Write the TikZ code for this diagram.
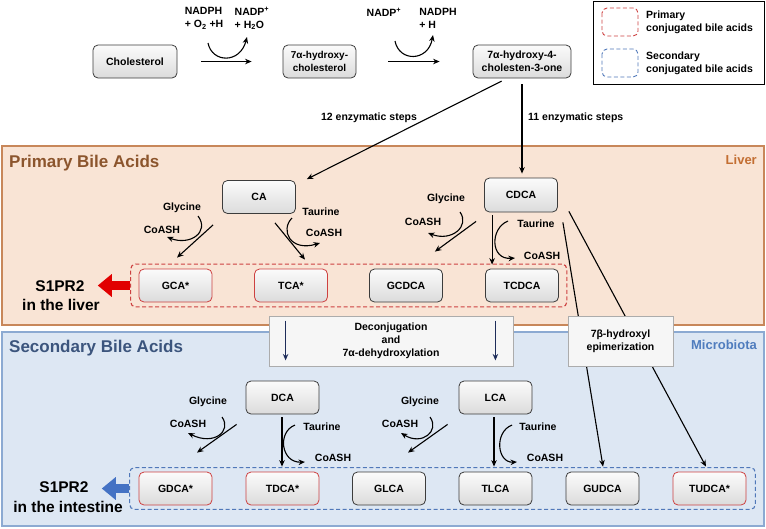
\documentclass[tikz,border=0pt]{standalone}
\usepackage{fontspec}
\setmainfont{Liberation Sans}
\usetikzlibrary{arrows.meta,fit}

\definecolor{liverfill}{RGB}{249,228,213}
\definecolor{liverline}{RGB}{200,135,90}
\definecolor{livertext}{RGB}{140,85,45}
\definecolor{liverlabel}{RGB}{195,110,50}
\definecolor{gutfill}{RGB}{221,231,243}
\definecolor{gutline}{RGB}{140,170,210}
\definecolor{guttext}{RGB}{60,85,125}
\definecolor{gutlabel}{RGB}{80,125,190}
\definecolor{conjred}{RGB}{205,65,65}
\definecolor{conjblue}{RGB}{80,120,185}
\definecolor{arrowred}{RGB}{225,0,0}
\definecolor{arrowblue}{RGB}{68,114,196}
\definecolor{navy}{RGB}{30,45,90}
\definecolor{boxline}{RGB}{60,60,60}

\begin{document}
\begin{tikzpicture}[x=1pt, y=-1pt, font=\bfseries\fontsize{10.5}{13}\selectfont,
  bile/.style={draw=boxline, line width=0.8pt, rounded corners=5pt, top color=gray!3, bottom color=gray!28,
    minimum width=73pt, minimum height=33pt, align=center, inner sep=1pt},
  arr/.style={-{Stealth[length=6.5pt,width=5.5pt]}, line width=1.1pt},
  cofac/.style={align=left, inner sep=0pt},
  lbl/.style={inner sep=0pt},
  stepbox/.style={draw=gray!65, fill=gray!7, line width=0.8pt, minimum height=50pt, align=center},
  region/.style={line width=1.2pt},
  dashbox/.style={draw, dash pattern=on 4pt off 2.5pt, line width=1.1pt, rounded corners=5pt},
  fat/.style={line width=9pt, -{Triangle[width=22pt,length=14pt]}},
]
  \useasboundingbox (0,0) rectangle (766,528);

  % Liver and microbiota areas
  \draw[region, draw=liverline, fill=liverfill] (2,146) rectangle (764,325);
  \draw[region, draw=gutline, fill=gutfill] (2,332) rectangle (764,526);
  \node[lbl, anchor=west, text=livertext, font=\bfseries\fontsize{17}{20}\selectfont] (primtitle) at (9,163) {Primary Bile Acids};
  \node[lbl, anchor=east, text=liverlabel, font=\bfseries\fontsize{13}{15}\selectfont] (livertitle) at (757,160) {Liver};
  \node[lbl, anchor=west, text=guttext, font=\bfseries\fontsize{17}{20}\selectfont] (sectitle) at (9,348) {Secondary Bile Acids};
  \node[lbl, anchor=east, text=gutlabel, font=\bfseries\fontsize{13}{15}\selectfont] (guttitle) at (757,345) {Microbiota};

  % Legend
  \node[draw, line width=0.9pt, minimum width=171pt, minimum height=83pt] (legend) at (678.5,42.5) {};
  \draw[dashbox, draw=conjred, line width=0.9pt] (602,8) rectangle (638,36);
  \draw[dashbox, draw=conjblue, line width=0.9pt] (602,49) rectangle (638,77);
  \node[lbl, anchor=west, align=left] (legprim) at (646,22.5) {Primary\\conjugated bile acids};
  \node[lbl, anchor=west, align=left] (legsec) at (646,63.5) {Secondary\\conjugated bile acids};

  % Cholesterol to 7a-hydroxy-4-cholesten-3-one
  \node[bile, minimum width=84pt] (chol) at (135,61.5) {Cholesterol};
  \node[bile, font=\bfseries\fontsize{10}{13}\selectfont] (hc) at (319.5,61.5) {7α-hydroxy-\\cholesterol};
  \node[bile, minimum width=98pt] (hcone) at (522,61.5) {7α-hydroxy-4-\\cholesten-3-one};

  \draw[arr, shorten <=24pt, shorten >=31pt] (chol) -- (hc);
  \draw[arr] (208,43) .. controls (212,63) and (240,64) .. (247,37);
  \node[cofac] (nadph1) at (204,18.5) {NADPH\\+ O\textsubscript{2} +H};
  \node[cofac] (nadp1) at (252,18.5) {NADP\textsuperscript{+}\\+ H\textsubscript{2}O};

  \draw[arr, shorten <=32pt, shorten >=33pt] (hc) -- (hcone);
  \draw[arr] (395,41) .. controls (399,62) and (428,62) .. (433,35);
  \node[cofac] (nadp2) at (384,12) {NADP\textsuperscript{+}};
  \node[cofac] (nadph2) at (438,18.5) {NADPH\\+ H};

  % Primary bile acids
  \node[bile] (CA) at (259,197) {CA};
  \node[bile, minimum height=34pt] (CDCA) at (521,195) {CDCA};
  \foreach \n/\t/\x/\c in {GCA/GCA*/175.5/conjred, TCA/TCA*/291/conjred,
                           GCDCA/GCDCA/406/boxline, TCDCA/TCDCA/522/boxline}
    \node[bile, draw=\c] (\n) at (\x,285.5) {\t};

  \draw[arr, shorten <=6pt] ([xshift=-15pt]hcone.south) -- ([xshift=11pt,yshift=1pt]CA.north east);
  \draw[arr] ([yshift=-6pt]hcone.south) -- ([xshift=1pt,yshift=4pt]CDCA.north);
  \node (steps12) at (369,118) {12 enzymatic steps};
  \node[lbl, anchor=west] (steps11) at (528,118) {11 enzymatic steps};

  % Secondary bile acids
  \node[bile] (DCA) at (282.5,397.5) {DCA};
  \node[bile] (LCA) at (495.5,397.5) {LCA};
  \foreach \n/\t/\x/\c in {GDCA/GDCA*/175.5/conjred, TDCA/TDCA*/282.5/conjred,
                           GLCA/GLCA/389/boxline, TLCA/TLCA/495.5/boxline,
                           GUDCA/GUDCA/602.5/boxline, TUDCA/TUDCA*/709.5/conjred}
    \node[bile, draw=\c] (\n) at (\x,488.5) {\t};

  % Conjugation with glycine / taurine
  \draw[arr] ([xshift=-9pt,yshift=-11pt]CA.south west) -- ([xshift=1.5pt,yshift=11pt]GCA.north);
  \draw[arr] (198,216) .. controls (210,232) and (190,246) .. (167,237);
  \node (gly1) at (182,208) {Glycine};
  \node (coa1) at (162,230) {CoASH};
  \draw[arr] ([xshift=16pt,yshift=-9pt]CA.south) -- ([xshift=14pt,yshift=9pt]TCA.north);
  \draw[arr] (292,218) .. controls (280,230) and (290,252) .. (320,243);
  \node (tau1) at (321,212) {Taurine};
  \node (coa2) at (324,233) {CoASH};

  \draw[arr] ([xshift=-8pt,yshift=-9pt]CDCA.south west) -- ([xshift=-8pt,yshift=17pt]GCDCA.north east);
  \draw[arr] (460,212) .. controls (470,226) and (452,242) .. (428,233);
  \node (gly2) at (446,199) {Glycine};
  \node (coa3) at (423,222) {CoASH};
  \draw[arr] ([xshift=8pt,yshift=-3pt]CDCA.south west) -- ([xshift=7pt,yshift=4pt]TCDCA.north west);
  \draw[arr] (508,221) .. controls (490,228) and (490,260) .. (515,258);
  \node (tau2) at (536,224) {Taurine};
  \node (coa4) at (542,256) {CoASH};

  \draw[arr] ([xshift=-9pt,yshift=-10pt]DCA.south west) -- ([xshift=21.5pt,yshift=19pt]GDCA.north);
  \draw[arr] (222,417) .. controls (232,431) and (214,446) .. (188,433);
  \node (gly3) at (208,402) {Glycine};
  \node (coa5) at (188,424) {CoASH};
  \draw[arr] ([xshift=-0.5pt,yshift=-3pt]DCA.south) -- ([xshift=-0.5pt,yshift=5pt]TDCA.north);
  \draw[arr] (295,425) .. controls (277,432) and (281,463) .. (305,462);
  \node (tau3) at (322,427) {Taurine};
  \node (coa6) at (333,458) {CoASH};

  \draw[arr] ([xshift=-11pt,yshift=-10pt]LCA.south west) -- ([xshift=19pt,yshift=19pt]GLCA.north);
  \draw[arr] (430,417) .. controls (440,431) and (422,446) .. (401,433);
  \node (gly4) at (420,402) {Glycine};
  \node (coa7) at (400,424) {CoASH};
  \draw[arr] ([xshift=-1.5pt,yshift=-3pt]LCA.south) -- ([xshift=-1.5pt,yshift=5pt]TLCA.north);
  \draw[arr] (512,425) .. controls (494,432) and (497,463) .. (517,462);
  \node (tau4) at (538,427) {Taurine};
  \node (coa8) at (545,458) {CoASH};

  % Epimerization of CDCA
  \draw[arr] ([xshift=5pt,yshift=-10pt]CDCA.south east) -- ([xshift=0.5pt,yshift=5pt]GUDCA.north);
  \draw[arr] ([xshift=11pt,yshift=1pt]CDCA.south east) -- ([xshift=-3.5pt,yshift=5pt]TUDCA.north);

  % Conjugated groups and S1PR2
  \node[dashbox, draw=conjred, fit=(GCA) (TCDCA), inner xsep=8pt, inner ysep=4.5pt] (prim) {};
  \node[dashbox, draw=conjblue, fit=(GDCA) (TUDCA), inner xsep=9pt, inner ysep=4pt] (sec) {};

  \node[lbl, font=\bfseries\fontsize{15.5}{18}\selectfont] (s1a) at (60,286) {S1PR2};
  \node[lbl, font=\bfseries\fontsize{15.5}{18}\selectfont] (s1aa) at (61,305) {in the liver};
  \node[lbl, font=\bfseries\fontsize{15.5}{18}\selectfont] (s1b) at (64,487) {S1PR2};
  \node[lbl, font=\bfseries\fontsize{15.5}{18}\selectfont] (s1bb) at (68,507) {in the intestine};
  \draw[fat, arrowred, shorten >=13pt] (prim.west) -- (prim.west -| s1a.east);
  \draw[fat, arrowblue, shorten >=13pt] (sec.west) -- (sec.west -| s1b.east);

  % Steps across the two areas
  \node[stepbox, minimum width=244pt] (deconj) at (391,341) {Deconjugation\\and\\7α-dehydroxylation};
  \node[stepbox, minimum width=105pt] (epim) at (620.5,341) {7β-hydroxyl\\epimerization};
  \draw[arr, navy] ([xshift=17pt,yshift=-5pt]deconj.north west) -- ([xshift=17pt,yshift=6pt]deconj.south west);
  \draw[arr, navy] ([xshift=-18pt,yshift=-5pt]deconj.north east) -- ([xshift=-18pt,yshift=6pt]deconj.south east);
\end{tikzpicture}
\end{document}
